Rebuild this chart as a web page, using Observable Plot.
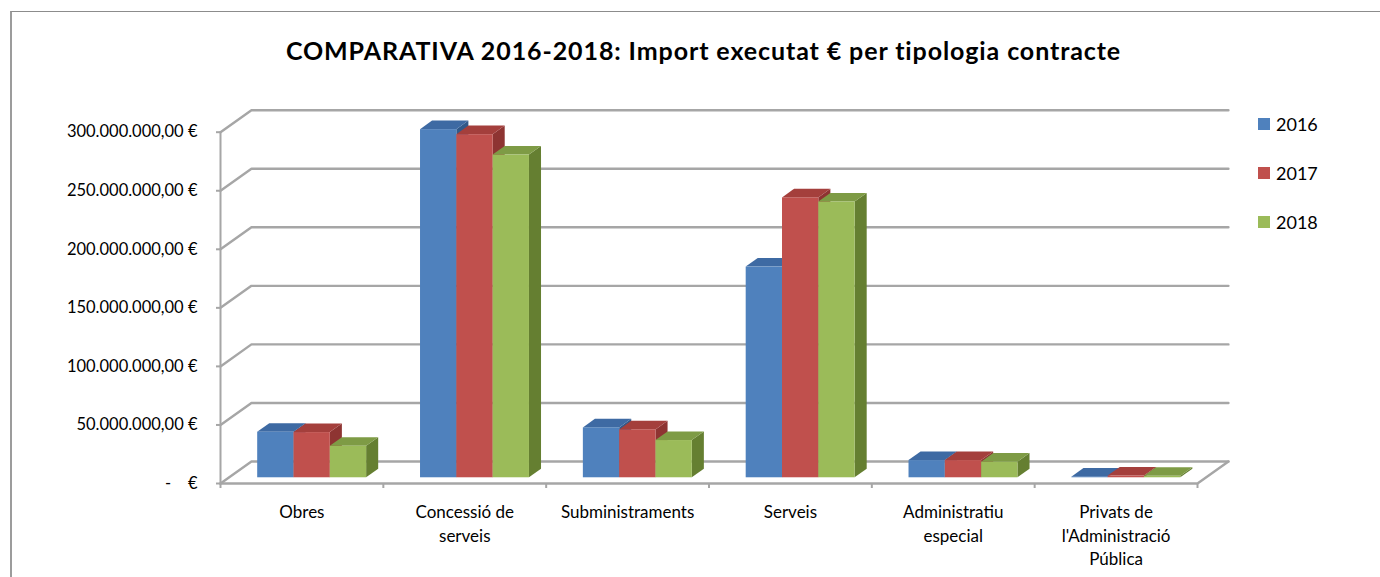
<!DOCTYPE html>
<html>
<head>
<meta charset="utf-8">
<script src="https://cdn.jsdelivr.net/npm/d3@7"></script>
<script src="https://cdn.jsdelivr.net/npm/@observablehq/plot@0.6"></script>
<style>
  body { margin: 0; background: #fff; }
  #wrap { position: relative; width: 1380px; height: 577px; overflow: hidden; font-family: Lato, "Open Sans", sans-serif; background: #fff; }
  #border { position: absolute; left: 10px; top: 11px; width: 1400px; height: 620px; border-left: 2px solid #9c9c9c; border-top: 1.5px solid #8c8c8c; }
  #title { position: absolute; left: 0; width: 1407px; top: 38px; text-align: center; font-weight: 700; font-size: 25px; line-height: 25px; letter-spacing: 0.9px; color: #000; white-space: nowrap; }
  #chart { position: absolute; left: 0; top: 0; }
  .leg-sq { position: absolute; width: 12px; height: 12px; }
  .leg-tx { position: absolute; font-size: 18px; line-height: 18px; color: #000; }
</style>
</head>
<body>
<div id="wrap">
  <div id="border"></div>
  <div id="chart"></div>
  <div id="title">COMPARATIVA 2016-2018: Import executat € per tipologia contracte</div>
</div>
<script>
// ---- data ----
const categories = ["Obres", "Concessió de serveis", "Subministraments", "Serveis", "Administratiu especial", "Privats de l'Administració Pública"];
const categoryLabels = ["Obres", "Concessió de\nserveis", "Subministraments", "Serveis", "Administratiu\nespecial", "Privats de\nl'Administració\nPública"];
const years = ["2016", "2017", "2018"];
const values2016 = [38.9e6, 297.3e6, 42.6e6, 179.9e6, 14.7e6, 0.5e6];
const values2017 = [38.6e6, 293.0e6, 40.9e6, 239.0e6, 14.7e6, 1.5e6];
const values2018 = [26.9e6, 275.6e6, 31.8e6, 235.5e6, 13.3e6, 1.2e6];
const yTicks = [0, 50e6, 100e6, 150e6, 200e6, 250e6, 300e6];

// ---- style ----
const frontColors = ["#4F81BD", "#C0504D", "#9BBB59"];
const topColors = ["#3E6AA3", "#A43F3C", "#7E9B45"];
const sideColors = ["#31598A", "#8E3432", "#657F31"];
const gridColor = "#A6A6A6";

// 3D projection constants (depth offset expressed in scale units)
const DEPTH_X = 0.19;      // category units
const DEPTH_Y = 18.8e6;    // value units
const F = 0.26;            // depth fraction of bar front plane
const G = 0.39;            // bar depth fraction
const OFF = 0.179;         // group offset inside category band
const BW = 0.223;          // bar width in category units

const series = [values2016, values2017, values2018];
const nCat = categories.length;

const bars = categories.flatMap((c, i) => years.map((yr, j) => {
  const v = series[j][i];
  const x1 = i + OFF + j * BW + F * DEPTH_X;
  return {i, j, yr, v, x1, x2: x1 + BW, b: F * DEPTH_Y};
}));

const tops = bars.flatMap((d, k) => [
  {k, j: d.j, y: d.v + d.b, x1: d.x1, x2: d.x2},
  {k, j: d.j, y: d.v + d.b + G * DEPTH_Y, x1: d.x1 + G * DEPTH_X, x2: d.x2 + G * DEPTH_X}
]);
const sides = bars.flatMap((d, k) => [
  {k, j: d.j, x: d.x2, y1: d.b, y2: d.v + d.b},
  {k, j: d.j, x: d.x2 + G * DEPTH_X, y1: d.b + G * DEPTH_Y, y2: d.v + d.b + G * DEPTH_Y}
]);

// back wall + side wall grid lines
const grid = yTicks.flatMap(t => [
  {t, x: 0, y: t},
  {t, x: DEPTH_X, y: t + DEPTH_Y},
  {t, x: nCat + DEPTH_X, y: t + DEPTH_Y}
]);
const floorEdge = [
  {x: 0, y: 0}, {x: nCat, y: 0}, {x: nCat + DEPTH_X, y: DEPTH_Y}
];
const axisLine = [{x: 0, y: 0}, {x: 0, y: yTicks[yTicks.length - 1]}];

const loc = d3.formatLocale({decimal: ",", thousands: ".", grouping: [3], currency: ["", "\u00a0€"]});
const money = loc.format("$,.2f");
const fmt = d => d === 0 ? "-\u00a0\u00a0\u00a0\u00a0€" : money(d);

const catData = categories.map((c, i) => ({i, label: categoryLabels[i]}));

const chart = Plot.plot({
  width: 1380,
  height: 577,
  marginLeft: 220,
  marginRight: 183,
  marginTop: 131.7,
  marginBottom: 94,
  x: {type: "linear", domain: [0, nCat], label: null},
  y: {type: "linear", domain: [0, yTicks[yTicks.length - 1]], label: null},
  style: {fontFamily: "Lato, 'Open Sans', sans-serif", background: "transparent", overflow: "visible", color: "#000"},
  marks: [
    Plot.line(grid, {x: "x", y: "y", z: "t", stroke: gridColor, strokeWidth: 2.4}),
    Plot.line(floorEdge, {x: "x", y: "y", stroke: gridColor, strokeWidth: 2.4}),
    Plot.line(axisLine, {x: "x", y: "y", stroke: gridColor, strokeWidth: 2}),
    Plot.axisY(yTicks, {tickSize: 4, tickPadding: 19, tickFormat: fmt, fontSize: 16.5, color: "#000", stroke: gridColor, strokeWidth: 2, label: null}),
    Plot.axisX(d3.range(nCat + 1), {tickSize: 5, tickFormat: () => "", stroke: gridColor, strokeWidth: 2, label: null}),
    ...years.map((yr, j) => Plot.areaY(sides.filter(d => d.j === j), {x: "x", y1: "y1", y2: "y2", z: "k", fill: sideColors[j]})),
    ...years.map((yr, j) => Plot.areaX(tops.filter(d => d.j === j), {y: "y", x1: "x1", x2: "x2", z: "k", fill: topColors[j]})),
    ...years.map((yr, j) => Plot.rect(bars.filter(d => d.j === j), {x1: "x1", x2: "x2", y1: "b", y2: d => d.v + d.b, fill: frontColors[j]})),
    Plot.text(catData, {x: d => d.i + 0.5, y: () => 0, text: "label", lineAnchor: "top", dy: 18, fontSize: 17, lineHeight: 1.376, fill: "#000", textAnchor: "middle"})
  ]
});
document.getElementById("chart").appendChild(chart);

// legend
const wrap = document.getElementById("wrap");
years.forEach((yr, j) => {
  const sq = document.createElement("div");
  sq.className = "leg-sq";
  sq.style.left = "1258px";
  sq.style.top = (117.7 + j * 49.2) + "px";
  sq.style.background = frontColors[j];
  wrap.appendChild(sq);
  const tx = document.createElement("div");
  tx.className = "leg-tx";
  tx.style.left = "1276px";
  tx.style.top = (114.7 + j * 49.3) + "px";
  tx.textContent = yr;
  wrap.appendChild(tx);
});
</script>
</body>
</html>
